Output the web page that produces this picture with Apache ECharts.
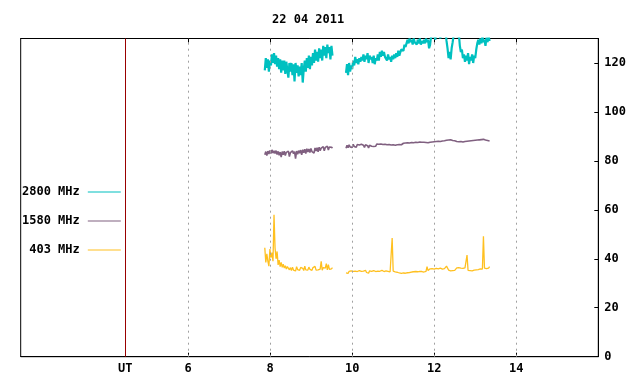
<!doctype html>
<html lang="en">
<head>
<meta charset="UTF-8">
<title>22 04 2011</title>
<script src="https://cdnjs.cloudflare.com/ajax/libs/echarts/6.0.0/echarts.min.js"></script>
<style>
  html, body { margin: 0; padding: 0; background: #fff; }
  #main { width: 640px; height: 384px; }
</style>
</head>
<body>
<div id="main"></div>
<script type="text/javascript">
// sampling: one value every 0.025 h, two recording blocks per frequency
var stepH = 0.025;
var startA = 7.87, startB = 9.85;
var utPos = 4.47;
var hourTicks = [6, 8, 10, 12, 14];
var valueTicks = [0, 20, 40, 60, 80, 100, 120];
var names = ['2800 MHz', '1580 MHz', ' 403 MHz'];

var mhz2800a = [117,122,118,121.5,116.5,121, 119,123.5,120,124,119.5,123,118.5,
  122,117.5,121.5,116,121,117, 121,115.5,120.5,117,114,120,116.5,
  120,115,119.5,112.5,120,116,119,114.5,118.5,115,120,112,117.5,
  121,116.5,122,118,123,117.5,122.5, 119,124,120,125.5,121,124.5,
  120.5,126,122,125.5,121,127,123,126.5,122,127.5,124,126.5,121.5,127,123];
var mhz2800b = [116,119.5,115,120,116.5,119,117.5,
  121,119,122.5,120,121.5,119.5,122,120.5,122.5,
  121,123.5,120.5,123,121.5,124,120,123,121.5,122.5,120,123,119.5,122,121,123.5,121,
  124.5,122.5,125,123,124.5,122.5,
  123,121,123.5,121.5,122.5,120.5,123,121.5,123.5,122,
  124,122.5,125,123,124.5,125.5,
  126,125,127.5,126.5,128,
  129.5,128,130,128.5,129.5,127.5,130,128.5,
  129,127.5,129.5,128,130,127.5,129,128,129.5,128,
  130,128.5,129.5,126,127.5,
  131,133,130.5,134,129.5,132.5,135,131,133.5,130,134,132,135,131.5,133,
  129,126,122,124.5,121.5,126,128.5,
  131.5,134,131,133.5,130.5,132,
  127,124.5,125.5,122,
  123.5,120.5,123,121,124,119.5,122.5,121,123.5,120,123,122,
  125.5,128,129.5,127.5,130,128,131,128.5,129.5,127,130.5,128.5,131,129];

var mhz1580a = [82.5,83.8,82.2,84,82.8,84.2,83,84.5,83.2,84.1,
  83,84.2,82.6,83.9,82.3,83.6,81.5,83.8,82.5,84,82.2,83.5,82.8,84,81.8,83.4,
  82.6,84.1,82.9,83.8,80.9,84,82.7,84.2,83.1,84.4,82.5,84.6,83.3,84.8,83,85,83.6,
  84.9,83.4,85.1,83.8,84.6,83.2,85.3,84,85.4,83.7,85.6,84.2,85.2,84.5,85.8,84.1,85.5,84.7,86,84.4,85.7,84.9,85.6,85.2];
var mhz1580b = [85.2,86.4,85.4,86.6,85.7,86.2,85.5,86.8,85.9,86.3,85.6,86.7,
  85.9,86.5,85.7,86.8,86,86.4,85.5,86.6,85.8,86.2,85.3,86.4,85.6,86,85.2,85.9,85.5,
  86,86.9,87.3,86.8,87.2,
  86.9,87.3,86.7,87.1,86.8,87.2,86.6,87,86.7,87.1,86.5,86.9,86.6,87,86.4,86.9,86.6,87,86.7,86.9,86.6,
  86.9,87.2,86.8,87.3,87,87.4,86.9,87.3,87.1,87.5,87,87.4,87.2,87.6,87.1,87.5,87.3,87.7,87.2,87.6,87.4,87.6,87.3,
  87.5,87.8,87.4,87.9,87.6,88,87.7,88.1,87.8,88.2,87.9,88.3,88,88.2,87.9,88.3,88.1,88.4,88.2,88.6,88.4,88.8,88.5,88.9,88.6,
  88.7,88.3,88.6,88.2,88.4,87.9,88.3,87.8,88.2,87.9,88.1,87.7,88.2,87.9,88.3,88,88.4,88.1,88.5,
  88.2,88.6,88.3,88.7,88.4,88.8,88.5,88.9,88.6,89.1,88.7,89.2,88.8,89,88.5,88.8,88.3,88.5,88.1];

var mhz403a = [44.5,38.5,42,39, 37,44,40.5, 42.5,39, 58, 44.4,40,43,
  37.5,39.5,36.8,38.5, 36.5,37.8,36.2,37.2,35.8,36.8,36,
  35.5,36.4,35.2,36.6,35.4,36.2,35,36.8,35.6,36.3,35.3,36.5,35.8,36.1,35.2,37,
  35.5,36.2,35.4,36.6,35.7,36,35.3,36.4,35.6,36.9,35.4,36.1,35.5,36.3,35.8,
  39, 35.3,36.4,35.6,36.2, 38,35.5,37.6, 35.7,36.5,35.9,36.4];
var mhz403b = [34.2,34.8,34,34.9,34.3,35.1,34.6,34.9,34.1,35,34.4,34.8,
  34.3,35.2,34.5,34.9,34.2,35,34.6,35.3,34.4,34.8,34.1,35.1,34.5,34.9,34.3,35.2,
  34.6,34.8,34.2,35,34.5,34.9,34.3,35.3,34.6,34.8,34.4,35.1,34.5,34.9,34.2,34.7,35,
  48.5,
  35,34.3,34.7,34,34.5,33.8,34.2,34.6,34,34.5,34.2,34.8,34.1,34.6,34.3,34.9,34.4,35,
  34.6,35.3,34.7,35.2,34.8,35.4,34.7,35.1,34.9,35.5,34.8,35.2,34.6,35.3,34.9,36.8,35.2,
  35.1,35.9,35.3,36,35.4,35.8,35.2,36.1,35.5,35.9,35.3,36.2,35.6,35.8,35.4,36,35.7,
  37,
  36.2,35.4,35.9,35.1,35.6,35.2,35.8,35.3,35.9,
  36.3,35.6,36.4,35.7,36.2,35.5,36.1,35.8,36.3,35.6,
  41.5,
  35.3,34.7,35.2,34.6,35.1,34.8,35.4,34.9,35.5,35,35.6,35.3,35.9,
  36.1,35.8, 49.2,
  36.2,36.6,36,36.5,36.2,36.8];

function joinBlocks(a, b) {
  var out = a.map((v, i) => [startA + i * stepH, v]);
  out.push([(startA + a.length * stepH + startB) / 2, null]);
  return out.concat(b.map((v, i) => [startB + i * stepH, v]));
}

var font = { fontFamily: 'DejaVu Sans Mono', fontSize: 12, fontWeight: 'bold', color: '#000' };

var myChart = echarts.init(document.getElementById('main'));

option = {
  animation: false,
  title: {
    text: '22 04 2011',
    left: 267,
    top: 9,
    textStyle: font
  },
  legend: {
    data: names,
    orient: 'vertical',
    align: 'right',
    left: 17,
    top: 180,
    itemGap: 15,
    itemWidth: 33,
    itemHeight: 1,
    icon: 'rect',
    textStyle: Object.assign({ padding: [0, 3, 0, 0], lineHeight: 14 }, font),
    selectedMode: false
  },
  grid: {
    left: 20.7,
    right: 41.7,
    top: 38.5,
    bottom: 27.3,
    show: true,
    borderColor: '#000',
    borderWidth: 1
  },
  xAxis: [
    {
      type: 'value',
      min: 1.92,
      max: 16,
      position: 'bottom',
      axisLine: { lineStyle: { color: '#000' } },
      axisTick: { customValues: hourTicks, inside: true, length: 4, lineStyle: { color: '#000' } },
      axisLabel: {
        customValues: [utPos].concat(hourTicks),
        margin: 6,
        formatter: v => Math.abs(v - utPos) < 0.01 ? 'UT' : String(v),
        fontFamily: font.fontFamily, fontSize: 12, fontWeight: 'bold', color: '#000'
      },
      splitLine: { show: false }
    },
    {
      type: 'value',
      min: 1.92,
      max: 16,
      position: 'top',
      axisLine: { lineStyle: { color: '#000' } },
      axisTick: { customValues: hourTicks, inside: true, length: 4, lineStyle: { color: '#000' } },
      axisLabel: { show: false },
      splitLine: { show: false }
    }
  ],
  yAxis: {
    type: 'value',
    min: 0,
    max: 130,
    position: 'right',
    axisLine: { show: true, lineStyle: { color: '#000' } },
    axisTick: { show: true, customValues: valueTicks, inside: true, length: 4, lineStyle: { color: '#000' } },
    axisLabel: {
      customValues: valueTicks,
      margin: 6,
      fontFamily: font.fontFamily, fontSize: 12, fontWeight: 'bold', color: '#000'
    },
    splitLine: { show: false }
  },
  series: [
    {
      name: names[0],
      type: 'line',
      data: joinBlocks(mhz2800a, mhz2800b),
      symbol: 'none',
      color: '#00c0c0',
      lineStyle: { width: 2.2, color: '#00c0c0' },
      markLine: {
        silent: true,
        symbol: 'none',
        label: { show: false },
        lineStyle: { color: '#a0a0a0', type: [2, 4], width: 1 },
        data: hourTicks.map(h => ({ xAxis: h })).concat([
          { xAxis: utPos, lineStyle: { color: '#990000', type: 'solid', width: 1 } }
        ])
      }
    },
    {
      name: names[1],
      type: 'line',
      data: joinBlocks(mhz1580a, mhz1580b),
      symbol: 'none',
      color: '#806080',
      lineStyle: { width: 1.6, color: '#806080' }
    },
    {
      name: names[2],
      type: 'line',
      data: joinBlocks(mhz403a, mhz403b),
      symbol: 'none',
      color: '#ffc020',
      lineStyle: { width: 1.3, color: '#ffc020' }
    }
  ]
};
myChart.setOption(option);
</script>
</body>
</html>
